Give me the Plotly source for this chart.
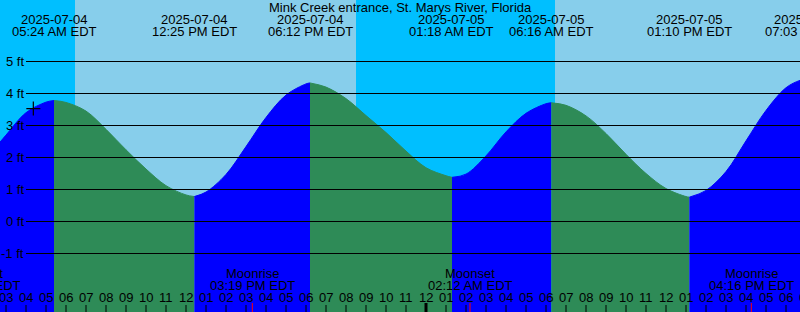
import plotly.graph_objects as go
import pandas as pd

TITLE = "Mink Creek entrance, St. Marys River, Florida"
FONT = "Liberation Sans"

# Tide curve (local time, feet)
tide_times = [
    "2025-07-04 02:42", "2025-07-04 03:00", "2025-07-04 04:00", "2025-07-04 05:00", "2025-07-04 05:24",
    "2025-07-04 06:00", "2025-07-04 07:00", "2025-07-04 08:00", "2025-07-04 09:00", "2025-07-04 10:00",
    "2025-07-04 11:00", "2025-07-04 12:00", "2025-07-04 12:25", "2025-07-04 13:00", "2025-07-04 14:00",
    "2025-07-04 15:00", "2025-07-04 16:00", "2025-07-04 17:00", "2025-07-04 18:00", "2025-07-04 18:12",
    "2025-07-04 19:00", "2025-07-04 20:00", "2025-07-04 21:00", "2025-07-04 22:00", "2025-07-04 23:00",
    "2025-07-05 00:00", "2025-07-05 01:00", "2025-07-05 01:18", "2025-07-05 02:00", "2025-07-05 03:00",
    "2025-07-05 04:00", "2025-07-05 05:00", "2025-07-05 06:00", "2025-07-05 06:16", "2025-07-05 07:00",
    "2025-07-05 08:00", "2025-07-05 09:00", "2025-07-05 10:00", "2025-07-05 11:00", "2025-07-05 12:00",
    "2025-07-05 13:00", "2025-07-05 13:10", "2025-07-05 14:00", "2025-07-05 15:00", "2025-07-05 16:00",
    "2025-07-05 17:00", "2025-07-05 18:00", "2025-07-05 18:42", "2025-07-05 19:03",
]
tide_heights = [
    2.48, 2.70, 3.40, 3.73, 3.78,
    3.72, 3.45, 2.88, 2.24, 1.64,
    1.12, 0.83, 0.78, 0.92, 1.47,
    2.34, 3.25, 3.95, 4.30, 4.33,
    4.20, 3.84, 3.31, 2.78, 2.20,
    1.68, 1.43, 1.38, 1.48, 2.05,
    2.80, 3.38, 3.68, 3.71, 3.63,
    3.30, 2.75, 2.10, 1.50, 1.03,
    0.78, 0.76, 0.97, 1.56, 2.52,
    3.47, 4.18, 4.41, 4.45,
]

# High / low tide events
extreme_times = ["2025-07-04 05:24", "2025-07-04 12:25", "2025-07-04 18:12",
                 "2025-07-05 01:18", "2025-07-05 06:16", "2025-07-05 13:10", "2025-07-05 19:03"]
extreme_dates = ["2025-07-04", "2025-07-04", "2025-07-04", "2025-07-05", "2025-07-05", "2025-07-05", "2025-07-05"]
extreme_clock = ["05:24 AM EDT", "12:25 PM EDT", "06:12 PM EDT", "01:18 AM EDT",
                 "06:16 AM EDT", "01:10 PM EDT", "07:03 PM EDT"]

# Sun: night/day bands
band_starts = ["2025-07-04 00:00", "2025-07-04 06:27", "2025-07-04 20:30", "2025-07-05 06:27"]
band_ends = ["2025-07-04 06:27", "2025-07-04 20:30", "2025-07-05 06:27", "2025-07-06 00:00"]
band_is_day = [False, True, False, True]

# Moon events
moon_times = ["2025-07-04 01:37", "2025-07-04 15:19", "2025-07-05 02:12", "2025-07-05 16:16"]
moon_names = ["Moonset", "Moonrise", "Moonset", "Moonrise"]
moon_clock = ["01:37 AM EDT", "03:19 PM EDT", "02:12 AM EDT", "04:16 PM EDT"]

# Height levels (ft) with grid lines
levels = [5, 4, 3, 2, 1, 0, -1]

# "+" mark
mark_time = "2025-07-04 04:22"
mark_height = 3.53

X_START = pd.Timestamp("2025-07-04 02:42")
X_END = pd.Timestamp("2025-07-05 18:42")
Y_TOP = 5 + 61.5 / 32
Y_BOT = Y_TOP - 312 / 32

NIGHT = "#00BFFF"
DAY = "#87CEEB"
RISE = "#0000FF"
FALL = "#2E8B57"


def py(px):
    """pixel row -> feet (via y scale)"""
    return Y_TOP - px / 32.0


def paper_x(ts):
    """time -> fraction of the x range (may lie outside 0..1 for partly visible labels)"""
    ts = pd.Timestamp(ts)
    return (ts - X_START) / (X_END - X_START)


fig = go.Figure()

# tide segments split at extremes
t = pd.to_datetime(pd.Series(tide_times))
h = list(tide_heights)
ext = set(pd.to_datetime(pd.Series(extreme_times)))
cut = [0] + [i for i, tt in enumerate(t) if tt in ext] + [len(t) - 1]
cut = sorted(set(cut))
for a, b in zip(cut[:-1], cut[1:]):
    xs = list(t[a:b + 1])
    ys = h[a:b + 1]
    color = RISE if ys[-1] > ys[0] else FALL
    fig.add_trace(go.Scatter(x=[xs[0], xs[-1]], y=[Y_BOT - 1, Y_BOT - 1], mode="lines",
                             line=dict(width=0, color=color), hoverinfo="skip", showlegend=False))
    fig.add_trace(go.Scatter(x=xs, y=ys, mode="lines", line=dict(width=1, color=color, shape="spline", smoothing=1),
                             fill="tonexty", fillcolor=color, hoverinfo="skip", showlegend=False))

# grid lines
gx0 = X_START + pd.Timedelta(hours=26 / 20)
for lv in levels:
    fig.add_trace(go.Scatter(x=[gx0, X_END + pd.Timedelta(hours=1)], y=[lv, lv], mode="lines",
                             line=dict(color="black", width=1), hoverinfo="skip", showlegend=False))

# hour ticks and labels
hours = pd.date_range("2025-07-04 03:00", "2025-07-05 19:00", freq="h")
tx, ty = [], []
for hh in hours:
    tx += [hh, hh, None]
    ty += [py(305), py(313), None]
fig.add_trace(go.Scatter(x=tx, y=ty, mode="lines", line=dict(color="black", width=1),
                         hoverinfo="skip", showlegend=False))
midnights = [hh for hh in hours if hh.hour == 0]
for m in midnights:
    fig.add_trace(go.Scatter(x=[m, m], y=[py(303), py(313)], mode="lines", line=dict(color="black", width=3),
                             hoverinfo="skip", showlegend=False))

# moon ticks
for mt in moon_times:
    fig.add_trace(go.Scatter(x=[mt, mt], y=[py(303), py(313)], mode="lines", line=dict(color="red", width=1),
                             hoverinfo="skip", showlegend=False))

# + mark
fig.add_trace(go.Scatter(x=[mark_time], y=[mark_height], mode="markers",
                         marker=dict(symbol="cross-thin", size=10, line=dict(color="black", width=1.2)),
                         hoverinfo="skip", showlegend=False))

annotations = []
f13 = dict(family=FONT, size=13, color="black")
annotations.append(dict(x=0.5, xref="paper", y=py(7.5), yref="y", text=TITLE, showarrow=False,
                        font=f13, xanchor="center", yanchor="middle"))
for hh in hours:
    annotations.append(dict(x=paper_x(hh), xref="paper", y=py(297), text=hh.strftime("%I"), showarrow=False,
                            font=f13, xanchor="center", yanchor="middle", borderpad=0))
for et, d, c in zip(extreme_times, extreme_dates, extreme_clock):
    annotations.append(dict(x=paper_x(et), xref="paper", y=py(19.5), text=d, showarrow=False, font=f13,
                            xanchor="center", yanchor="middle"))
    annotations.append(dict(x=paper_x(et), xref="paper", y=py(31.3), text=c, showarrow=False, font=f13,
                            xanchor="center", yanchor="middle"))
for mt, n, c in zip(moon_times, moon_names, moon_clock):
    annotations.append(dict(x=paper_x(mt), xref="paper", y=py(273.5), text=n, showarrow=False, font=f13,
                            xanchor="center", yanchor="middle"))
    annotations.append(dict(x=paper_x(mt), xref="paper", y=py(285.5), text=c, showarrow=False, font=f13,
                            xanchor="center", yanchor="middle"))
lab_x = X_START + pd.Timedelta(hours=25 / 20)
for lv in levels:
    annotations.append(dict(x=lab_x, y=lv, text=f"{lv} ft", showarrow=False, font=f13,
                            xanchor="right", yanchor="middle", borderpad=0))

shapes = []
for s, e, d in zip(band_starts, band_ends, band_is_day):
    shapes.append(dict(type="rect", xref="x", yref="paper", x0=s, x1=e, y0=0, y1=1,
                       fillcolor=DAY if d else NIGHT, line=dict(width=0), layer="below"))

fig.update_layout(
    width=800, height=312, margin=dict(l=0, r=0, t=0, b=0),
    paper_bgcolor=NIGHT, plot_bgcolor=NIGHT,
    xaxis=dict(range=[X_START, X_END], visible=False, showgrid=False, zeroline=False),
    yaxis=dict(range=[Y_BOT, Y_TOP], visible=False, showgrid=False, zeroline=False),
    shapes=shapes, annotations=annotations, showlegend=False,
)

fig.write_html("out.html")
